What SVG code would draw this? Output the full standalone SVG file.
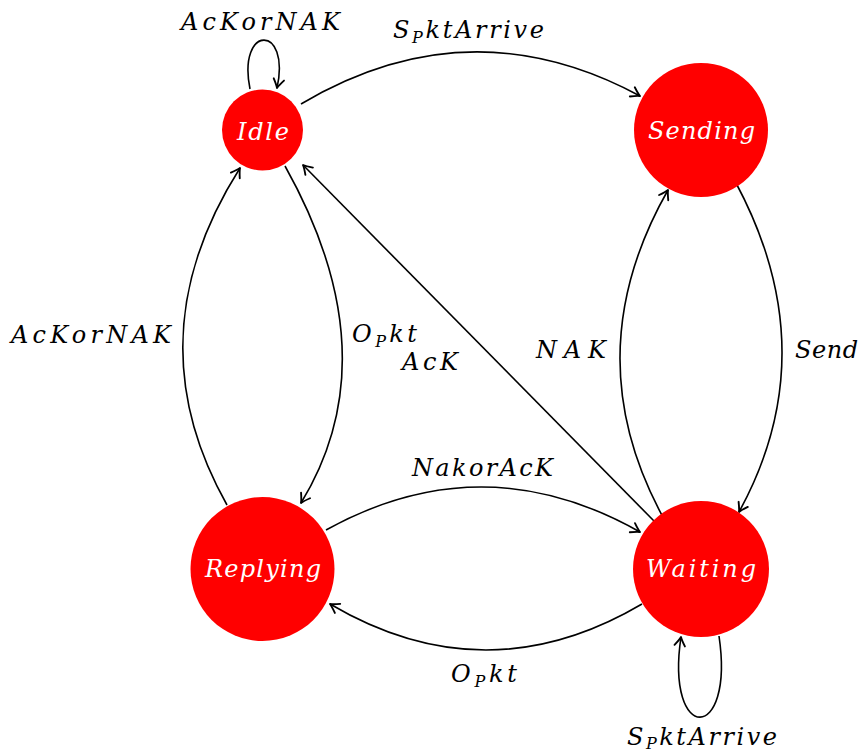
<svg xmlns="http://www.w3.org/2000/svg" width="860" height="753" viewBox="0 0 860 753">
  <style>
    .state { fill: #ff0000; }
    .name { fill: #ffffff; font-family: "DejaVu Serif", serif; font-style: italic; font-size: 24px; text-anchor: middle; }
    .lbl { fill: #000000; font-family: "DejaVu Serif", serif; font-style: italic; font-size: 24px; }
    .sub { font-size: 16px; }
    .edge { fill: none; stroke: #000000; stroke-width: 1.6; marker-end: url(#tip); }
  </style>
  <defs>
    <marker id="tip" markerUnits="userSpaceOnUse" markerWidth="14" markerHeight="14" viewBox="-9 -6 10 12" refX="0" refY="0" orient="auto">
      <path d="M -7.5 -4.5 Q -2.5 -1 0 0 Q -2.5 1 -7.5 4.5" fill="none" stroke="#000000" stroke-width="1.6" stroke-linecap="round" stroke-linejoin="round"/>
    </marker>
  </defs>

  <!-- transitions -->
  <g id="connectors">
    <path class="edge" d="M 301 104 Q 469.5 4 640 96"/>
    <path class="edge" d="M 736 183 Q 826.5 352.5 739 512"/>
    <path class="edge" d="M 664 519 Q 574 355.5 668 190"/>
    <path class="edge" d="M 654 521 L 303 165"/>
    <path class="edge" d="M 285 166 Q 391 355.5 301 503"/>
    <path class="edge" d="M 227 505 Q 132.5 337.5 240 168"/>
    <path class="edge" d="M 326 530 Q 483 443 640 532"/>
    <path class="edge" d="M 642 604 Q 486 696 330 604"/>
    <path class="edge" d="M 250 89 C 237 24, 291 24, 277 88"/>
    <path class="edge" d="M 719 636 C 735 744, 665 744, 681 637"/>
  </g>

  <!-- transition labels -->
  <g id="labels">
    <text class="lbl" x="181" y="30" textLength="159" lengthAdjust="spacing">AcKorNAK</text>
    <text class="lbl" x="393" y="38" textLength="151" lengthAdjust="spacing">S<tspan class="sub" dy="5">P</tspan><tspan dy="-5">ktArrive</tspan></text>
    <text class="lbl" x="11" y="343" textLength="160" lengthAdjust="spacing">AcKorNAK</text>
    <text class="lbl" x="352" y="342" textLength="65" lengthAdjust="spacing">O<tspan class="sub" dy="5">P</tspan><tspan dy="-5">kt</tspan></text>
    <text class="lbl" x="402" y="370" textLength="56" lengthAdjust="spacing">AcK</text>
    <text class="lbl" x="536" y="358" textLength="70" lengthAdjust="spacing">NAK</text>
    <text class="lbl" x="795" y="358" textLength="63" lengthAdjust="spacing">Send</text>
    <text class="lbl" x="412" y="476" textLength="141" lengthAdjust="spacing">NakorAcK</text>
    <text class="lbl" x="451" y="682" textLength="66" lengthAdjust="spacing">O<tspan class="sub" dy="5">P</tspan><tspan dy="-5">kt</tspan></text>
    <text class="lbl" x="627" y="745" textLength="150" lengthAdjust="spacing">S<tspan class="sub" dy="4">P</tspan><tspan dy="-4">ktArrive</tspan></text>
  </g>

  <!-- states -->
  <g id="idle">
    <circle class="state" cx="262.5" cy="130" r="40.5"/>
    <text class="name" x="263" y="140" textLength="52" lengthAdjust="spacing">Idle</text>
  </g>
  <g id="sending">
    <circle class="state" cx="701" cy="130" r="67"/>
    <text class="name" x="701.5" y="139" textLength="107" lengthAdjust="spacing">Sending</text>
  </g>
  <g id="replying">
    <circle class="state" cx="262.5" cy="569" r="72"/>
    <text class="name" x="263" y="577" textLength="116" lengthAdjust="spacing">Replying</text>
  </g>
  <g id="waiting">
    <circle class="state" cx="701" cy="569" r="68"/>
    <text class="name" x="701" y="577" textLength="110" lengthAdjust="spacing">Waiting</text>
  </g>
</svg>
